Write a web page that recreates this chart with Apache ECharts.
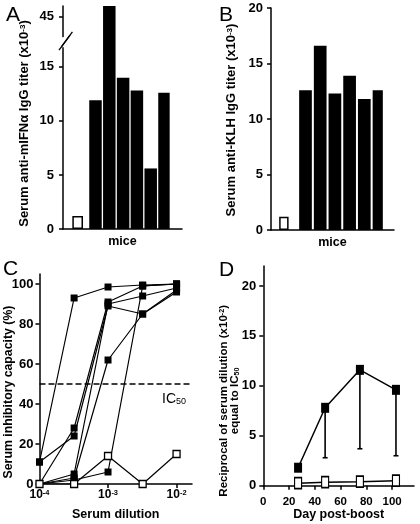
<!DOCTYPE html>
<html><head><meta charset="utf-8">
<script src="https://cdn.jsdelivr.net/npm/echarts@6/dist/echarts.min.js"></script>
<style>html,body{margin:0;padding:0;background:#fff}#c{width:420px;height:524px}</style>
</head><body><div id="c"></div>
<script>
// ---------- Panel A: anti-mIFNa IgG titer (x10^-3) ----------
const miceA = ['ctrl', 'm1', 'm2', 'm3', 'm4', 'm5', 'm6'];
const controlA = [1.2, '-', '-', '-', '-', '-', '-'];
const immunizedA = ['-', 11.9, 46, 14.0, 12.8, 5.6, 12.6];
const ticksA = [0, 5, 10, 15, 45];
// ---------- Panel B: anti-KLH IgG titer (x10^-3) ----------
const miceB = ['ctrl', 'm1', 'm2', 'm3', 'm4', 'm5', 'm6'];
const controlB = [1.2, '-', '-', '-', '-', '-', '-'];
const immunizedB = ['-', 12.6, 16.6, 12.3, 13.9, 11.8, 12.6];
const ticksB = [0, 5, 10, 15, 20];
// ---------- Panel C: serum inhibitory capacity (%) ----------
const dilutions = [1e-4, 3.2e-4, 1e-3, 3.2e-3, 1e-2];
const mouseC1 = [11, 93, 98.5, 99.5, 100];
const mouseC2 = [0, 28, 91, 99, 100];
const mouseC3 = [11, 24, 89, 85, 97];
const mouseC4 = [0, 5, 90, 94, 98];
const mouseC5 = [0, 3, 62, 85, 96];
const mouseC6 = [0, 2, 6, 99, 100];
const controlC = [0, 0, 14, 0, 15];
const ticksCx = [1e-4, 1e-3, 1e-2];
const ticksCy = [0, 20, 40, 60, 80, 100];
const ic50 = 50;
// ---------- Panel D: reciprocal serum dilution equal to IC50 (x10^-2) ----------
const daysD = [27, 48, 75, 103];
const meanD = [1.8, 7.8, 11.6, 9.6];
const lowD = [1.8, 2.8, 3.7, 3.0];
const controlD = [0.25, 0.35, 0.4, 0.5];
const ticksDx = [0, 20, 40, 60, 80, 100];
const ticksDy = [0, 5, 10, 15, 20];

const F = '"Liberation Sans", Arial, sans-serif';
const K = '#000';
const chart = echarts.init(document.getElementById('c'), null, {renderer: 'canvas'});

const lab = (size) => ({color: K, fontFamily: F, fontWeight: 'bold', fontSize: size});
const richSup = (size, lh) => ({
  sup: {fontSize: size * 0.62, fontWeight: 'bold', fontFamily: F, color: K, verticalAlign: 'top', lineHeight: lh || size},
  sub: {fontSize: size * 0.62, fontWeight: 'bold', fontFamily: F, color: K, verticalAlign: 'bottom', lineHeight: lh || size},
  n: {fontSize: size, fontWeight: 'bold', fontFamily: F, color: K, lineHeight: lh || size}
});

function frameY(grid, min, max, ticks, name, nameGap, margin, nameSize, shiftDown, extra) {
  return Object.assign({
    gridIndex: grid, type: 'value', min: min, max: max,
    axisLine: {show: true, lineStyle: {color: K, width: 1.5}},
    axisTick: {show: true, length: 4, lineStyle: {color: K, width: 1.5}, customValues: ticks},
    axisLabel: Object.assign(lab(13), {margin: margin, customValues: ticks}),
    splitLine: {show: false},
    name: name, nameLocation: 'middle', nameRotate: 90, nameGap: nameGap, nameMoveOverlap: false,
    nameTextStyle: Object.assign(lab(nameSize), {rich: richSup(nameSize, nameSize * 0.95), lineHeight: nameSize * 0.95,
      padding: [0, 2 * shiftDown, 0, 0]})
  }, extra || {});
}
function hiddenY(grid, min, max, extra) {
  return Object.assign({gridIndex: grid, type: 'value', min: min, max: max, show: false, splitLine: {show: false}}, extra || {});
}
const breakA = {breaks: [{start: 17, end: 43.2, gap: '4%'}], breakArea: {show: false}};

const option = {
  animation: false,
  backgroundColor: '#fff',
  title: [
    {text: 'A', left: 1, top: 0, textStyle: {fontFamily: F, fontWeight: 'normal', fontSize: 21, color: K}},
    {text: 'B', left: 214, top: 0, textStyle: {fontFamily: F, fontWeight: 'normal', fontSize: 21, color: K}},
    {text: 'C', left: -2, top: 254, textStyle: {fontFamily: F, fontWeight: 'normal', fontSize: 21, color: K}},
    {text: 'D', left: 214, top: 255, textStyle: {fontFamily: F, fontWeight: 'normal', fontSize: 21, color: K}}
  ],
  grid: [
    {left: 63, top: 6, width: 119, height: 223},        // 0 A frame
    {left: 73.075, top: 6, width: 96.6, height: 223},   // 1 A bars
    {left: 271, top: 8, width: 123, height: 222},       // 2 B frame
    {left: 279.925, top: 8, width: 102.9, height: 222}, // 3 B bars
    {left: 39.5, top: 274, width: 152.5, height: 210},  // 4 C
    {left: 263.3, top: 266, width: 150.7, height: 219.7} // 5 D
  ],
  xAxis: [
    {gridIndex: 0, type: 'value', min: 0, max: 1, axisLine: {show: true, onZero: false, lineStyle: {color: K, width: 1.5}},
     axisTick: {show: false}, axisLabel: {show: false}, splitLine: {show: false},
     name: 'mice', nameLocation: 'middle', nameGap: 6, nameMoveOverlap: false, nameTextStyle: Object.assign(lab(12.5), {verticalAlign: 'top'})},
    {gridIndex: 1, type: 'category', data: miceA, show: false},
    {gridIndex: 2, type: 'value', min: 0, max: 1, axisLine: {show: true, onZero: false, lineStyle: {color: K, width: 1.5}},
     axisTick: {show: false}, axisLabel: {show: false}, splitLine: {show: false},
     name: 'mice', nameLocation: 'middle', nameGap: 6, nameMoveOverlap: false, nameTextStyle: Object.assign(lab(12.5), {verticalAlign: 'top'})},
    {gridIndex: 3, type: 'category', data: miceB, show: false},
    {gridIndex: 4, type: 'log', logBase: 10, min: 1e-4, max: 0.0168,
     axisLine: {show: true, onZero: false, lineStyle: {color: K, width: 1.5}},
     axisTick: {show: true, length: 4, lineStyle: {color: K, width: 1.5}, customValues: ticksCx},
     axisLabel: Object.assign(lab(12), {margin: 5, customValues: ticksCx, rich: richSup(12),
       formatter: v => '{n|10}{sup|' + Math.round(Math.log10(v)) + '}'}),
     splitLine: {show: false},
     name: 'Serum dilution', nameLocation: 'middle', nameGap: 24, nameMoveOverlap: false, nameTextStyle: lab(12.5)},
    {gridIndex: 5, type: 'value', min: 0, max: 117,
     axisLine: {show: true, onZero: false, lineStyle: {color: K, width: 1.5}},
     axisTick: {show: true, length: 4, lineStyle: {color: K, width: 1.5}, customValues: ticksDx},
     axisLabel: Object.assign(lab(11.5), {margin: 10, customValues: ticksDx}),
     splitLine: {show: false},
     name: 'Day post-boost', nameLocation: 'middle', nameGap: 22, nameMoveOverlap: false, nameTextStyle: lab(12.5)}
  ],
  yAxis: [
    frameY(0, 0, 46, ticksA, 'Serum anti-mIFNα IgG titer (x10{sup|-3})', 32, 9, 13, 6, breakA),
    hiddenY(1, 0, 46, breakA),
    frameY(2, 0, 20, ticksB, 'Serum anti-KLH IgG titer (x10{sup|-3})', 33, 8, 13, 1),
    hiddenY(3, 0, 20),
    frameY(4, 0, 105, ticksCy, 'Serum inhibitory capacity (%)', 25, 6, 12.3, 13),
    frameY(5, 0, 22, ticksDy, 'Reciprocal of serum dilution (x10{sup|-2})\nequal to IC{sub|50}', 23, 7, 11.5, 25)
  ],
  series: []
};

// A/B bars
function bars(xi, yi, ctrl, imm, w0, w1, gap) {
  return [
    {type: 'bar', xAxisIndex: xi, yAxisIndex: yi, data: ctrl, barWidth: w0, barGap: gap,
     itemStyle: {color: '#fff', borderColor: K, borderWidth: 1.5}},
    {type: 'bar', xAxisIndex: xi, yAxisIndex: yi, data: imm, barWidth: w1, barGap: gap,
     itemStyle: {color: K}}
  ];
}
option.series.push(...bars(1, 1, controlA, immunizedA, 11, 12.5, '-68.6%'));
option.series.push(...bars(3, 3, controlB, immunizedB, 11.2, 12.7, '-37.05%'));

// C lines
const zip = (xs, ys) => xs.map((x, i) => [x, ys[i]]);
[mouseC1, mouseC2, mouseC3, mouseC4, mouseC5, mouseC6].forEach((m, idx) => {
  option.series.push({type: 'line', xAxisIndex: 4, yAxisIndex: 4, data: zip(dilutions, m),
    symbol: 'rect', symbolSize: 7, itemStyle: {color: K}, lineStyle: {color: K, width: 1.2}, z: 3,
    markLine: idx === 0 ? {silent: true, symbol: 'none', data: [{yAxis: ic50}],
      lineStyle: {color: K, type: [6, 3], width: 1.5},
      label: {show: true, position: 'insideEndBottom', distance: [6, 8], fontFamily: F, fontSize: 14, color: K,
        formatter: 'IC{s|50}', rich: {s: {fontSize: 9, fontFamily: F, color: K, verticalAlign: 'bottom', lineHeight: 14}}}} : undefined
  });
});
option.series.push({type: 'line', xAxisIndex: 4, yAxisIndex: 4, data: zip(dilutions, controlC),
  symbol: 'rect', symbolSize: 7, itemStyle: {color: '#fff', borderColor: K, borderWidth: 1.3},
  lineStyle: {color: K, width: 1.2}, z: 4});

// D
option.series.push({type: 'custom', xAxisIndex: 5, yAxisIndex: 5, z: 2,
  data: daysD.map((d, i) => [d, meanD[i], lowD[i]]),
  renderItem: (params, api) => {
    const p1 = api.coord([api.value(0), api.value(1)]);
    const p2 = api.coord([api.value(0), api.value(2)]);
    const st = {stroke: K, lineWidth: 1.6};
    return {type: 'group', children: [
      {type: 'line', shape: {x1: p1[0], y1: p1[1], x2: p2[0], y2: p2[1]}, style: st},
      {type: 'line', shape: {x1: p2[0] - 2.5, y1: p2[1], x2: p2[0] + 2.5, y2: p2[1]}, style: st}
    ]};
  }});
option.series.push({type: 'line', xAxisIndex: 5, yAxisIndex: 5, data: zip(daysD, meanD), z: 3,
  symbol: 'rect', symbolSize: [8, 10], itemStyle: {color: K}, lineStyle: {color: K, width: 1.5}});
option.series.push({type: 'line', xAxisIndex: 5, yAxisIndex: 5, data: zip(daysD, controlD), z: 4,
  symbol: 'rect', symbolSize: [7, 11], itemStyle: {color: '#fff', borderColor: K, borderWidth: 1.4},
  lineStyle: {color: K, width: 1.5}});

chart.setOption(option);

// axis-break slashes on panel A, placed through the axis' own scale
const yb = chart.convertToPixel({yAxisIndex: 0}, 17);
const ax = chart.convertToPixel({xAxisIndex: 0}, 0);
if (isFinite(yb) && isFinite(ax)) {
  const yc = yb - 3;
  chart.setOption({graphic: [
    {type: 'rect', shape: {x: ax - 2, y: yc - 5, width: 4, height: 10}, style: {fill: '#fff'}, z: 100},
    {type: 'line', shape: {x1: ax - 4, y1: yc + 8, x2: ax + 7, y2: yc - 7}, style: {stroke: K, lineWidth: 1.3}, z: 101},
    {type: 'line', shape: {x1: ax - 1.6, y1: yc + 4.7, x2: ax + 9.4, y2: yc - 10.3}, style: {stroke: K, lineWidth: 1.3}, z: 101}
  ]});
}
</script></body></html>
